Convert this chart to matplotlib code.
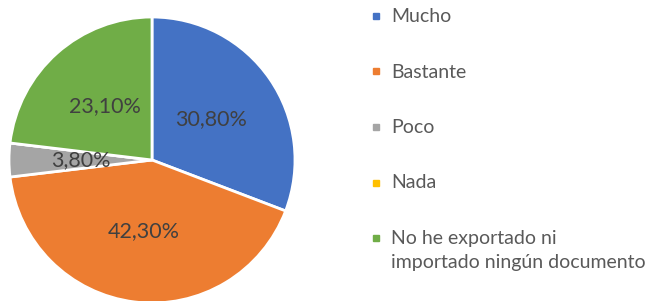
import matplotlib.pyplot as plt
from matplotlib.lines import Line2D

categorias = ['Mucho', 'Bastante', 'Poco', 'Nada',
              'No he exportado ni\nimportado ningún documento']
valores = [30.8, 42.3, 3.8, 0.0, 23.1]
colores = ['#4472C4', '#ED7D31', '#A5A5A5', '#FFC000', '#70AD47']

plt.rcParams['font.family'] = ['Lato', 'DejaVu Sans']

W, H = 652, 301
fig = plt.figure(figsize=(W / 100, H / 100), dpi=100)
ax = fig.add_axes([9 / W, -2 / H, 286 / W, 286 / H])


def formato(p):
    # sin etiqueta para los sectores vacíos
    if p < 0.05:
        return ''
    return f'{p:.2f}%'.replace('.', ',')


wedges, textos, pcts = ax.pie(valores, colors=colores, startangle=90,
                              counterclock=False, autopct=formato,
                              pctdistance=0.5,
                              wedgeprops=dict(edgecolor='white', linewidth=2))
for t in pcts:
    t.set_fontsize(15.5)
    t.set_color('#404040')
ax.set_xlim(-1, 1)
ax.set_ylim(-1, 1)
ax.set_aspect('equal')

# leyenda a mano: cuadrado pequeño + texto alineado con la primera línea
y0, paso = 16, 55.5
for i, (cat, col) in enumerate(zip(categorias, colores)):
    y = y0 + i * paso
    fig.add_artist(Line2D([376 / W], [1 - y / H], transform=fig.transFigure,
                          marker='s', linestyle='', color=col, markersize=4.5))
    fig.text(391 / W, 1 - (y - 8) / H, cat, fontsize=14, color='#595959',
             va='top', ha='left', linespacing=1.5)

fig.savefig('out.png', dpi=100)
